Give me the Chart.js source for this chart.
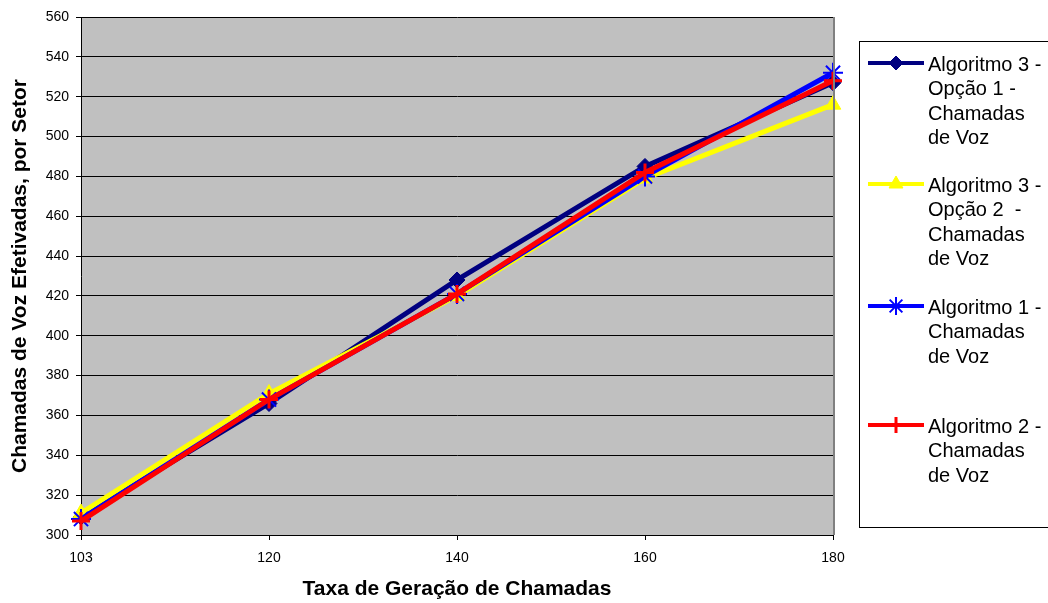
<!DOCTYPE html>
<html>
<head>
<meta charset="utf-8">
<script src="https://cdn.jsdelivr.net/npm/chart.js@4.4.1/dist/chart.umd.min.js"></script>
<style>
  body { margin: 0; background: #fff; }
  canvas { display: block; }
</style>
</head>
<body>
<canvas id="chart" width="1048" height="603"></canvas>
<script>
const categories = ["103", "120", "140", "160", "180"];
const alg3Op1 = [309, 366, 428, 485, 527];
const alg3Op2 = [311, 371, 420, 479, 516];
const alg1 = [308, 368, 421, 480, 532];
const alg2 = [307, 368, 421, 482, 528];
const seriesLabels = [
  ["Algoritmo 3 -", "Opção 1 -", "Chamadas", "de Voz"],
  ["Algoritmo 3 -", "Opção 2  -", "Chamadas", "de Voz"],
  ["Algoritmo 1 -", "Chamadas", "de Voz"],
  ["Algoritmo 2 -", "Chamadas", "de Voz"],
];
const yTicks = { min: 300, max: 560, step: 20 };

const FONT = "Arial, 'Liberation Sans', sans-serif";
Chart.defaults.font.family = FONT;
Chart.defaults.color = "#000";

// fundo cinza da área do gráfico + borda direita
const plotBg = {
  id: "plotBg",
  beforeDraw(chart) {
    const { ctx, chartArea: a } = chart;
    ctx.save();
    ctx.fillStyle = "#c0c0c0";
    ctx.fillRect(a.left, a.top, a.right - a.left, a.bottom - a.top);
    ctx.restore();
  },
  afterDatasetsDraw(chart) {
    const { ctx, chartArea: a } = chart;
    ctx.save();
    ctx.strokeStyle = "#808080";
    ctx.lineWidth = 2;
    ctx.beginPath();
    ctx.moveTo(a.right + 1, a.top);
    ctx.lineTo(a.right + 1, a.bottom);
    ctx.stroke();
    ctx.restore();
  },
};

// legenda no estilo Excel, à direita
const sideLegend = {
  id: "sideLegend",
  afterDraw(chart) {
    const ctx = chart.ctx;
    const rows = [63, 184, 306, 425];
    ctx.save();
    ctx.strokeStyle = "#000";
    ctx.lineWidth = 1;
    ctx.strokeRect(859.5, 41.5, 200, 486);
    chart.data.datasets.forEach((ds, i) => {
      const y = rows[i];
      ctx.strokeStyle = ds.borderColor;
      ctx.fillStyle = ds.borderColor;
      ctx.lineWidth = 4;
      ctx.beginPath();
      ctx.moveTo(868, y);
      ctx.lineTo(924, y);
      ctx.stroke();
      ctx.lineWidth = ds.pointBorderWidth;
      Chart.helpers.drawPoint(ctx, {
        pointStyle: ds.pointStyle,
        radius: ds.legendRadius,
        borderWidth: ds.pointBorderWidth,
      }, 896, y);
      ctx.fillStyle = "#000";
      ctx.font = "20px " + FONT;
      ctx.textBaseline = "middle";
      ctx.textAlign = "left";
      ds.label.forEach((line, k) => ctx.fillText(line, 928, y + 2 + k * 24.5));
    });
    ctx.restore();
  },
};

function series(label, data, color, style, radius, bw, order) {
  return {
    label: label,
    data: data,
    borderColor: color,
    backgroundColor: color,
    pointBackgroundColor: color,
    pointBorderColor: color,
    borderWidth: 5,
    pointStyle: style,
    pointRadius: radius,
    pointBorderWidth: bw,
    legendRadius: radius - 1,
    tension: 0,
    order: order,
  };
}

new Chart(document.getElementById("chart"), {
  type: "line",
  data: {
    labels: categories,
    datasets: [
      series(seriesLabels[0], alg3Op1, "#000080", "rectRot", 8, 1, 4),
      series(seriesLabels[1], alg3Op2, "#ffff00", "triangle", 9, 1, 3),
      series(seriesLabels[2], alg1, "#0000ff", "star", 10, 2, 2),
      series(seriesLabels[3], alg2, "#ff0000", "cross", 9, 3, 1),
    ],
  },
  options: {
    responsive: false,
    animation: false,
    layout: { padding: { top: 17, right: 215, bottom: 0, left: 0 } },
    plugins: { legend: { display: false }, tooltip: { enabled: false } },
    scales: {
      x: {
        offset: false,
        grid: { drawOnChartArea: false, tickLength: 5, color: "#000" },
        border: { color: "#000", width: 1 },
        ticks: { font: { size: 14 }, padding: 10, maxRotation: 0 },
        title: {
          display: true,
          text: "Taxa de Geração de Chamadas",
          font: { size: 21, weight: "bold" },
          padding: { top: 0, bottom: 1 },
        },
        afterFit(scale) { scale.height = 68; },
      },
      y: {
        min: yTicks.min,
        max: yTicks.max,
        grid: { color: "#000", tickLength: 5 },
        border: { color: "#000", width: 1 },
        ticks: { stepSize: yTicks.step, font: { size: 14 }, padding: 7 },
        title: {
          display: true,
          text: "Chamadas de Voz Efetivadas, por Setor",
          font: { size: 21, weight: "bold" },
          padding: { top: 8, bottom: 0 },
        },
        afterFit(scale) { scale.width = 81; },
      },
    },
  },
  plugins: [plotBg, sideLegend],
});
</script>
</body>
</html>
